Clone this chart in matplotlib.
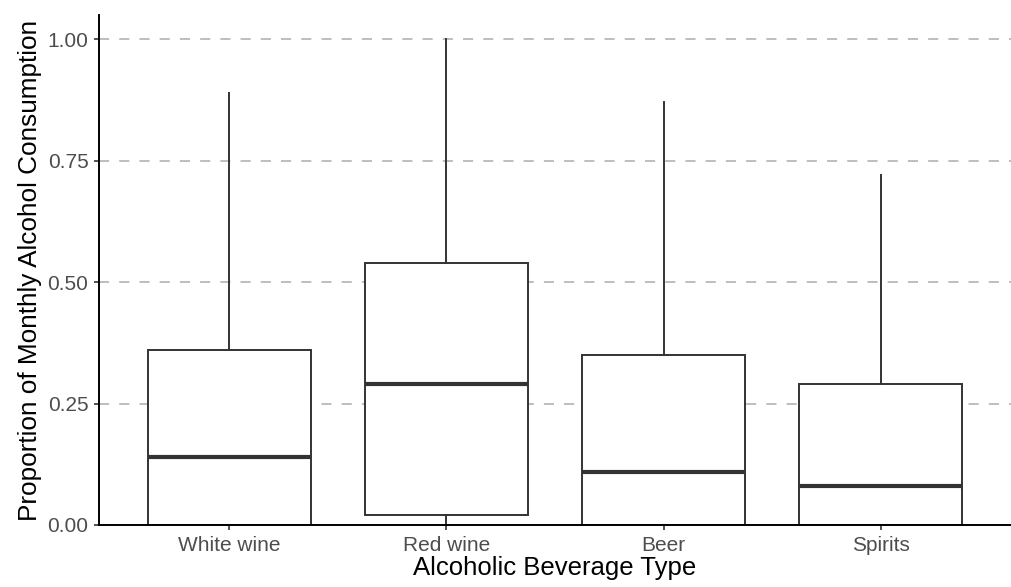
import matplotlib.pyplot as plt
import matplotlib

matplotlib.rcParams['font.family'] = ['Liberation Sans', 'DejaVu Sans']

beverages = ['White wine', 'Red wine', 'Beer', 'Spirits']
q1 = [0.00, 0.02, 0.00, 0.00]
medians = [0.14, 0.29, 0.11, 0.08]
q3 = [0.36, 0.54, 0.35, 0.29]
whisk_lo = [0.00, 0.00, 0.00, 0.00]
whisk_hi = [0.89, 1.00, 0.87, 0.72]
y_ticks = [0.00, 0.25, 0.50, 0.75, 1.00]

line_col = '#333333'

fig = plt.figure(figsize=(10.11, 5.87), dpi=100)
ax = fig.add_axes([99 / 1011, 62 / 587, 1 - 99 / 1011, (525 - 15) / 587])

stats = []
for i, name in enumerate(beverages):
	stats.append({
		'label': name, 'q1': q1[i], 'med': medians[i], 'q3': q3[i],
		'whislo': whisk_lo[i], 'whishi': whisk_hi[i], 'fliers': []
	})

positions = list(range(1, len(beverages) + 1))
ax.bxp(
	stats, positions=positions, widths=0.75, showcaps=False, showfliers=False,
	patch_artist=True,
	boxprops=dict(facecolor='white', edgecolor=line_col, linewidth=1.4),
	whiskerprops=dict(color=line_col, linewidth=1.4),
	medianprops=dict(color=line_col, linewidth=3.0, solid_capstyle='butt'),
	zorder=3
)

# 虚线网格
for t in y_ticks:
	ax.axhline(t, color='#bebebe', linewidth=1.4, linestyle=(0, (5.2, 5.2)), zorder=1)

ax.set_xlim(0.4, 4.6)
ax.set_ylim(0, 1.05)
ax.set_yticks(y_ticks)
ax.set_yticklabels(['%.2f' % t for t in y_ticks])
ax.set_xticks(positions)
ax.set_xticklabels(beverages)

ax.spines['top'].set_visible(False)
ax.spines['right'].set_visible(False)
for s in ['left', 'bottom']:
	ax.spines[s].set_linewidth(1.4)
	ax.spines[s].set_color('black')
	ax.spines[s].set_zorder(4)

ax.tick_params(axis='both', length=3.6, width=1.2, color='#333333',
			   labelcolor='#4d4d4d', labelsize=15, pad=4)

ax.set_xlabel('Alcoholic Beverage Type', fontsize=18.5, color='black', labelpad=1)
ax.set_ylabel('Proportion of Monthly Alcohol Consumption', fontsize=18.8, color='black', labelpad=4)

fig.savefig('out.png', dpi=100)
